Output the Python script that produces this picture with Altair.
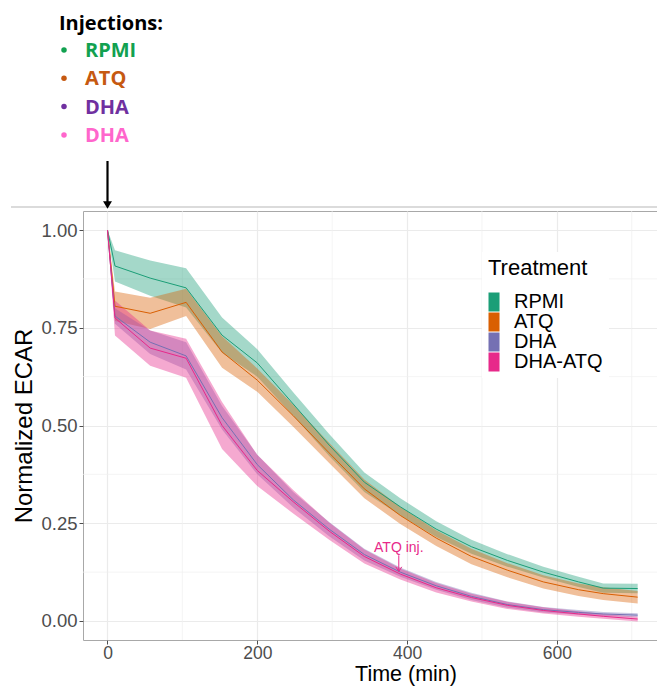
import altair as alt
import pandas as pd

# ---------------- data ----------------
times = [0, 10, 57, 105, 153, 200, 248, 296, 343, 391, 439, 486, 534, 582, 629, 662, 708]
treatments = ["RPMI", "ATQ", "DHA", "DHA-ATQ"]
colors = ["#1B9E77", "#D95F02", "#7570B3", "#E7298A"]

mean_rpmi = [1.0, 0.908, 0.877, 0.852, 0.731, 0.66, 0.555, 0.45, 0.355, 0.292, 0.235, 0.19, 0.155, 0.125, 0.10, 0.084, 0.083]
sd_rpmi = [0.0, 0.04, 0.045, 0.05, 0.045, 0.035, 0.03, 0.028, 0.025, 0.022, 0.02, 0.018, 0.016, 0.014, 0.013, 0.012, 0.012]
mean_atq = [1.0, 0.805, 0.787, 0.815, 0.688, 0.616, 0.525, 0.43, 0.338, 0.27, 0.212, 0.165, 0.13, 0.10, 0.08, 0.07, 0.061]
sd_atq = [0.0, 0.038, 0.04, 0.035, 0.04, 0.03, 0.028, 0.026, 0.024, 0.022, 0.02, 0.02, 0.018, 0.017, 0.016, 0.016, 0.016]
mean_dha = [1.0, 0.78, 0.713, 0.678, 0.52, 0.40, 0.31, 0.235, 0.17, 0.125, 0.09, 0.063, 0.042, 0.029, 0.022, 0.018, 0.015]
sd_dha = [0.0, 0.02, 0.03, 0.035, 0.03, 0.025, 0.02, 0.018, 0.015, 0.012, 0.01, 0.009, 0.008, 0.007, 0.006, 0.005, 0.005]
mean_dhaatq = [1.0, 0.775, 0.698, 0.672, 0.50, 0.385, 0.305, 0.23, 0.165, 0.12, 0.085, 0.06, 0.04, 0.027, 0.018, 0.012, 0.005]
sd_dhaatq = [0.0, 0.045, 0.045, 0.05, 0.06, 0.04, 0.03, 0.022, 0.018, 0.014, 0.012, 0.01, 0.009, 0.008, 0.007, 0.006, 0.006]

x_ticks = [0, 200, 400, 600]
x_minor = [100, 300, 500, 700]
y_ticks = [0.0, 0.25, 0.5, 0.75, 1.0]
y_minor = [0.125, 0.375, 0.625, 0.875]

inj_labels = ["RPMI", "ATQ", "DHA", "DHA"]
inj_colors = ["#12A150", "#C65911", "#7030A0", "#FF66CC"]

# ---------------- build table ----------------
means = [mean_rpmi, mean_atq, mean_dha, mean_dhaatq]
sds = [sd_rpmi, sd_atq, sd_dha, sd_dhaatq]
rows = []
for k, (name, m, s) in enumerate(zip(treatments, means, sds)):
    for t, v, e in zip(times, m, s):
        rows.append({"Treatment": name, "ord": k, "time": t, "ecar": v, "lo": v - e, "hi": v + e})
df = pd.DataFrame(rows)

W, H = 574, 429
FONT = "Liberation Sans"
xs = alt.Scale(domain=[-32.7, 733.8], nice=False, zero=False)
ys = alt.Scale(domain=[-0.0486, 1.0486], nice=False, zero=False)
cscale = alt.Scale(domain=treatments, range=colors)

xaxis = alt.Axis(values=x_ticks, title=None, format="d")
yaxis = alt.Axis(values=y_ticks, title=None, format=".2f")


def X(field):
    return alt.X(field, type="quantitative", scale=xs, axis=xaxis)


def Y(field):
    return alt.Y(field, type="quantitative", scale=ys, axis=yaxis)


one = pd.DataFrame({"a": [0]})

minor_x = alt.Chart(pd.DataFrame({"t": x_minor})).mark_rule(
    color="#EFEFEF", strokeWidth=0.7).encode(x=X("t"))
minor_y = alt.Chart(pd.DataFrame({"v": y_minor})).mark_rule(
    color="#EFEFEF", strokeWidth=0.7).encode(y=Y("v"))

bands = alt.Chart(df).mark_area(opacity=0.4, strokeWidth=0).encode(
    x=X("time"),
    y=Y("lo"),
    y2="hi:Q",
    fill=alt.Fill("Treatment:N", scale=cscale, sort=treatments,
                  legend=alt.Legend(
                      title="Treatment", orient="none", legendX=399, legendY=41,
                      fillColor="white", padding=6,
                      titleFont=FONT, titleFontSize=22, titleFontWeight="normal",
                      titleColor="black", titlePadding=12,
                      labelFont=FONT, labelFontSize=20, labelColor="black",
                      labelOffset=6,
                      symbolType="M-1,-1H0.16V1H-1Z", symbolSize=361,
                      symbolOpacity=1, symbolStrokeWidth=0, rowPadding=0)),
    order=alt.Order("ord:Q"),
)

lines = alt.Chart(df).mark_line(strokeWidth=1).encode(
    x=X("time"),
    y=Y("ecar"),
    stroke=alt.Stroke("Treatment:N", scale=cscale, sort=treatments, legend=None),
    order=alt.Order("time:Q"),
)

# "ATQ inj." annotation (data coordinates)
ann = pd.DataFrame({"t": [389], "ty": [0.176], "y1": [0.168], "y2": [0.127]})
ann_text = alt.Chart(ann).mark_text(
    text="ATQ inj.", font=FONT, fontSize=14, color="#E7298A",
    align="center", baseline="alphabetic").encode(x=X("t"), y=Y("ty"))
ann_rule = alt.Chart(ann).mark_rule(color="#E7298A", strokeWidth=1).encode(
    x=X("t"), y=Y("y1"), y2="y2:Q")
ann_head = alt.Chart(ann).mark_point(
    shape="M-1,-1.5L0,0L1,-1.5", size=36, filled=False, color="#E7298A",
    strokeWidth=1, opacity=1).encode(x=X("t"), y=Y("y2"))

# pixel-placed decorations outside the panel
top_line = alt.Chart(one).mark_rule(color="#CFCFCF", strokeWidth=1.5).encode(
    x=alt.value(-72), x2=alt.value(W + 20), y=alt.value(-4))
arrow_shaft = alt.Chart(one).mark_rule(color="black", strokeWidth=2.2).encode(
    x=alt.value(24.5), y=alt.value(-50), y2=alt.value(-9))
arrow_head = alt.Chart(one).mark_point(
    shape="triangle-down", size=80, filled=True, color="black", opacity=1).encode(
    x=alt.value(24.5), y=alt.value(-6))

x_title = alt.Chart(one).mark_text(
    text="Time  (min)", font=FONT, fontSize=21.5, color="black",
    align="center", baseline="alphabetic").encode(x=alt.value(323), y=alt.value(470))
y_title = alt.Chart(one).mark_text(
    text="Normalized ECAR", font=FONT, fontSize=24, color="black", angle=270,
    align="center", baseline="alphabetic").encode(x=alt.value(-51), y=alt.value(215))

inj_head = alt.Chart(one).mark_text(
    text="Injections:", font="Open Sans", fontSize=20, fontWeight="bold",
    color="black", align="left", baseline="alphabetic").encode(
    x=alt.value(-24), y=alt.value(-181))

inj_layers = []
for i, (lab, col) in enumerate(zip(inj_labels, inj_colors)):
    yb = -154 + 28.3 * i
    inj_layers.append(alt.Chart(one).mark_text(
        text=lab, font="Open Sans", fontSize=20, fontWeight="bold", color=col,
        align="left", baseline="alphabetic").encode(x=alt.value(2), y=alt.value(yb)))
    inj_layers.append(alt.Chart(one).mark_point(
        shape="circle", size=30, filled=True, color=col, opacity=1).encode(
        x=alt.value(-19), y=alt.value(yb - 7)))

chart = alt.layer(
    minor_x, minor_y, bands, lines, ann_text, ann_rule, ann_head,
    top_line, arrow_shaft, arrow_head, x_title, y_title, inj_head, *inj_layers
).resolve_scale(fill="independent", stroke="independent").properties(
    width=W, height=H,
    padding={"left": 75, "top": 203, "right": 0, "bottom": 46},
    autosize=alt.AutoSizeParams(type="none"),
).configure_view(
    stroke="#A8A8A8", strokeWidth=1
).configure_axis(
    labelFont=FONT, labelFontSize=18.5, labelColor="#4D4D4D",
    tickColor="#4D4D4D", tickSize=4, tickWidth=1,
    domain=False, grid=True, gridColor="#EBEBEB", gridWidth=1.2,
).configure_axisX(labelFontSize=17.5, labelPadding=0).configure_axisY(labelPadding=2)

chart.save("out.html", embed_options={"renderer": "svg", "actions": False})
